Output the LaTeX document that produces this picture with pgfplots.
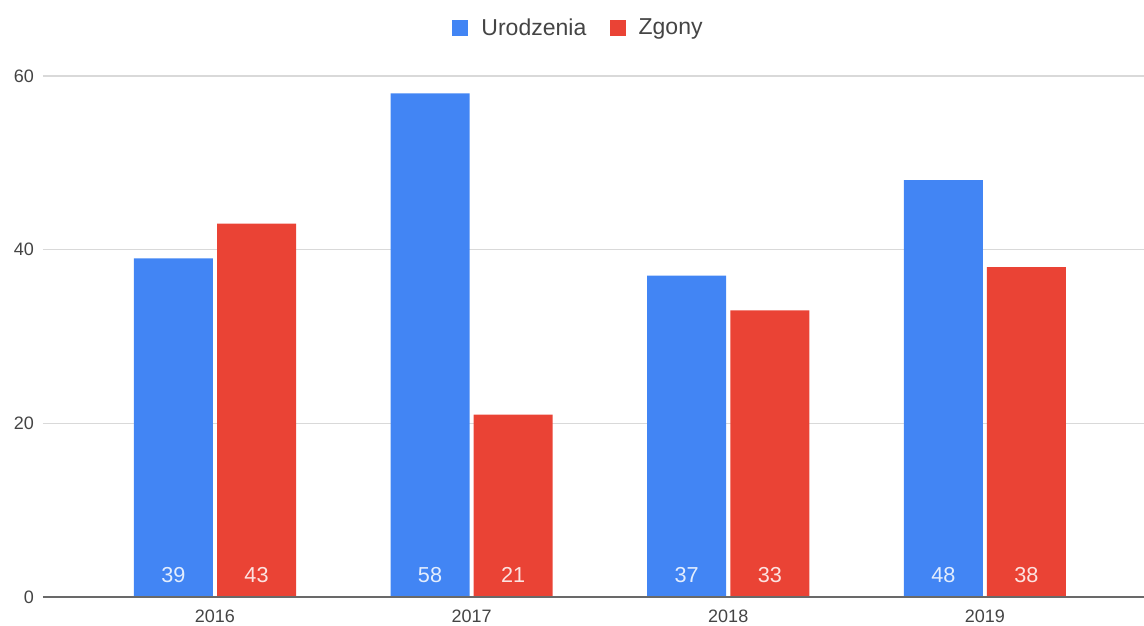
\documentclass[border=0pt]{standalone}
\usepackage{fontspec}
\setmainfont{Liberation Sans}
\usepackage{pgfplots}
\pgfplotsset{compat=1.18}
\definecolor{gblue}{HTML}{4285F4}
\definecolor{gred}{HTML}{EA4335}
\definecolor{ggrid}{HTML}{D9D9D9}
\definecolor{gtext}{HTML}{444444}
\begin{document}
\begin{tikzpicture}
\begin{axis}[
  name=ax,
  scale only axis, width=660.6pt, height=312.6pt,
  xmin=-0.67, xmax=3.62, ymin=0, ymax=60,
  axis line style={draw=none},
  tick style={draw=none},
  major tick length=0pt,
  ytick={0,20,40,60},
  ymajorgrids, grid style={ggrid, line width=0.8pt},
  xtick={0,1,2,3}, xticklabels={2016,2017,2018,2019},
  /pgf/number format/assume math mode=true,
  ticklabel style={font=\fontsize{10.8}{13}\selectfont, text=gtext},
  yticklabel style={xshift=-2pt},
  xticklabel style={yshift=-4.5pt},
  legend style={at={(rel axis cs:0.487,1.092)}, anchor=center, draw=none, fill=none,
    legend columns=2, font=\fontsize{13.8}{16}\selectfont, text=gtext,
    /tikz/every odd column/.append style={column sep=6pt},
    /tikz/every even column/.append style={column sep=12pt}},
]
\addlegendimage{legend image code/.code={\fill[gblue] (0pt,-4.5pt) rectangle (9pt,4.5pt);}}
\addlegendentry{Urodzenia}
\addlegendimage{legend image code/.code={\fill[gred] (0pt,-4.5pt) rectangle (9pt,4.5pt);}}
\addlegendentry{Zgony}

\addplot[ybar, bar width=0.308, bar shift=-0.162, fill=gblue, draw=none, forget plot]
  coordinates {(0,39) (1,58) (2,37) (3,48)};
\addplot[ybar, bar width=0.308, bar shift=0.162, fill=gred, draw=none, forget plot]
  coordinates {(0,43) (1,21) (2,33) (3,38)};

\draw[gtext!80, line width=0.8pt] (axis cs:-0.67,0) -- (axis cs:3.62,0);

\addplot[only marks, mark=none, forget plot,
  point meta=explicit, nodes near coords,
  nodes near coords style={anchor=center, xshift=-24.95pt, yshift=13.2pt, text=white!85!gblue,
    font=\fontsize{13}{15}\selectfont, /pgf/number format/assume math mode=true}]
  coordinates {(0,0) [39] (1,0) [58] (2,0) [37] (3,0) [48]};
\addplot[only marks, mark=none, forget plot,
  point meta=explicit, nodes near coords,
  nodes near coords style={anchor=center, xshift=24.95pt, yshift=13.2pt, text=white!85!gred,
    font=\fontsize{13}{15}\selectfont, /pgf/number format/assume math mode=true}]
  coordinates {(0,0) [43] (1,0) [21] (2,0) [33] (3,0) [38]};
\end{axis}
\pgfresetboundingbox
\path[use as bounding box] ([shift={(-25.8pt,-16.8pt)}]ax.south west) rectangle ([shift={(0pt,45.6pt)}]ax.north east);
\end{tikzpicture}
\end{document}
